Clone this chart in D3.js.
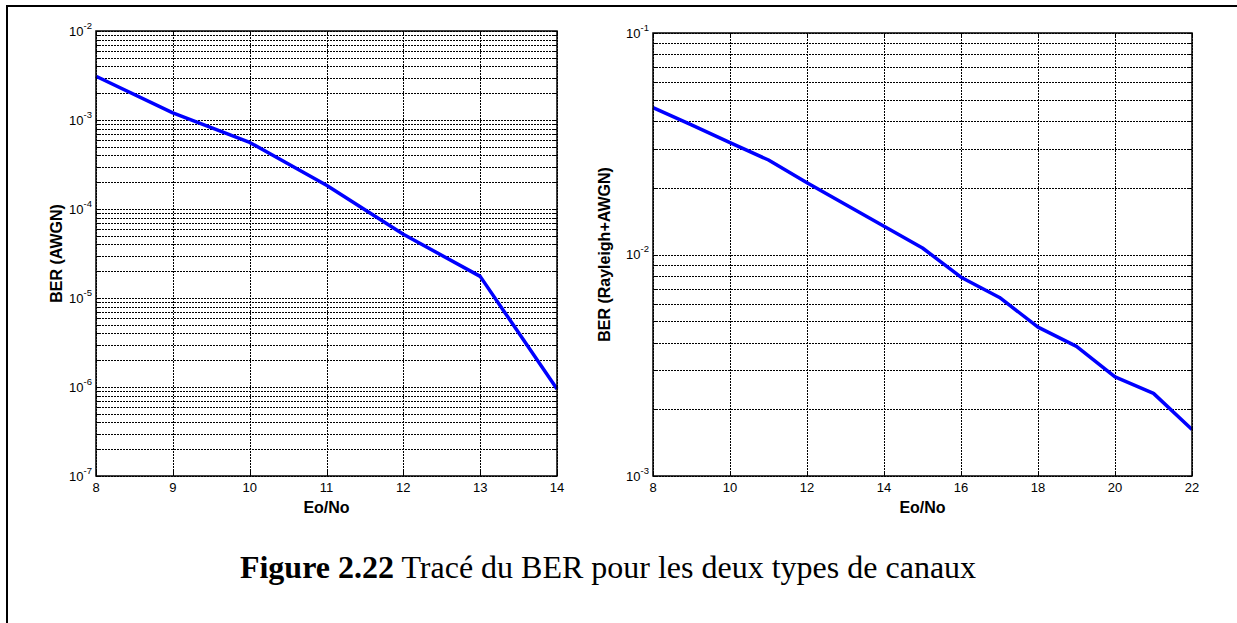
<!DOCTYPE html>
<html>
<head>
<meta charset="utf-8">
<script src="https://cdn.jsdelivr.net/npm/d3@7"></script>
<style>
  html, body { margin: 0; padding: 0; background: #fff; }
  svg { display: block; }
</style>
</head>
<body>
<svg id="chart" width="1237" height="623"></svg>
<script>
// ---------- data ----------
const xAWGN = [8, 9, 10, 11, 12, 13, 14];
const berAWGN = [3.1e-3, 1.2e-3, 5.6e-4, 1.85e-4, 5.2e-5, 1.75e-5, 9.5e-7];

const xRayleigh = [8, 9, 10, 11, 12, 13, 14, 15, 16, 17, 18, 19, 20, 21, 22];
const berRayleigh = [4.6e-2, 3.85e-2, 3.2e-2, 2.67e-2, 2.11e-2, 1.68e-2, 1.34e-2, 1.07e-2,
                     7.9e-3, 6.4e-3, 4.7e-3, 3.85e-3, 2.8e-3, 2.36e-3, 1.62e-3];

const xTicksAWGN = [8, 9, 10, 11, 12, 13, 14];
const yExpAWGN = [-2, -3, -4, -5, -6, -7];
const xTicksRayleigh = [8, 10, 12, 14, 16, 18, 20, 22];
const yExpRayleigh = [-1, -2, -3];

const xLabel = "Eo/No";
const yLabelAWGN = "BER (AWGN)";
const yLabelRayleigh = "BER (Rayleigh+AWGN)";
const captionBold = "Figure 2.22";
const captionText = " Tracé du BER pour les deux types de canaux";

// ---------- drawing ----------
const svg = d3.select("#chart");

// page frame (left and top border)
svg.append("path")
  .attr("d", "M7,623 V6 H1237")
  .attr("fill", "none").attr("stroke", "#000").attr("stroke-width", 2);

function panel(opts) {
  const { left, right, top, bottom, xs, ys, xTicks, yExps, xDomain, yLabel, yLabelX } = opts;
  const yMinExp = d3.min(yExps), yMaxExp = d3.max(yExps);
  const x = d3.scaleLinear().domain(xDomain).range([left, right]);
  const y = d3.scaleLog().domain([Math.pow(10, yMinExp), Math.pow(10, yMaxExp)]).range([bottom, top]);
  const g = svg.append("g");

  const yMajor = yExps.map(e => Math.pow(10, e));
  const yMinor = [];
  for (let e = yMinExp; e < yMaxExp; e++) {
    for (let k = 2; k <= 9; k++) yMinor.push(k * Math.pow(10, e));
  }
  const yAll = yMajor.concat(yMinor);

  // grid: horizontal
  g.append("g").selectAll("line").data(yAll).join("line")
    .attr("x1", left).attr("x2", right)
    .attr("y1", d => Math.round(y(d)) + 0.5).attr("y2", d => Math.round(y(d)) + 0.5)
    .attr("stroke", "#000").attr("stroke-width", 1).attr("stroke-dasharray", "2,1");
  // grid: vertical
  g.append("g").selectAll("line").data(xTicks).join("line")
    .attr("x1", d => Math.round(x(d)) + 0.5).attr("x2", d => Math.round(x(d)) + 0.5)
    .attr("y1", top).attr("y2", bottom)
    .attr("stroke", "#000").attr("stroke-width", 1).attr("stroke-dasharray", "2,1");

  // ticks (inside, all four sides)
  const tk = g.append("g").attr("stroke", "#000").attr("stroke-width", 1);
  yAll.forEach(v => {
    const len = yMajor.includes(v) ? 5 : 3;
    const yy = Math.round(y(v)) + 0.5;
    tk.append("line").attr("x1", left).attr("x2", left + len).attr("y1", yy).attr("y2", yy);
    tk.append("line").attr("x1", right - len).attr("x2", right).attr("y1", yy).attr("y2", yy);
  });
  xTicks.forEach(v => {
    const xx = Math.round(x(v)) + 0.5;
    tk.append("line").attr("x1", xx).attr("x2", xx).attr("y1", bottom).attr("y2", bottom - 5);
    tk.append("line").attr("x1", xx).attr("x2", xx).attr("y1", top).attr("y2", top + 5);
  });

  // data line
  const line = d3.line().x((d, i) => x(xs[i])).y(d => y(d));
  g.append("path").datum(ys)
    .attr("d", line)
    .attr("fill", "none").attr("stroke", "#0000ff").attr("stroke-width", 3.5)
    .attr("stroke-linejoin", "round");

  // box
  g.append("rect")
    .attr("x", left).attr("y", top).attr("width", right - left).attr("height", bottom - top)
    .attr("fill", "none").attr("stroke", "#000").attr("stroke-width", 1.5);

  // x tick labels
  g.append("g").selectAll("text").data(xTicks).join("text")
    .attr("x", d => x(d)).attr("y", bottom + 16)
    .attr("text-anchor", "middle")
    .attr("font-family", "Liberation Sans, Arial, sans-serif").attr("font-size", 13)
    .text(d => d);

  // y tick labels 10^e
  const yl = g.append("g").selectAll("text").data(yExps).join("text")
    .attr("x", left - 4).attr("y", d => y(Math.pow(10, d)) + 4.5)
    .attr("text-anchor", "end")
    .attr("font-family", "Liberation Sans, Arial, sans-serif").attr("font-size", 13);
  yl.append("tspan").text("10");
  yl.append("tspan").attr("dy", -7).attr("font-size", 9.5).text(d => d);

  // x label
  g.append("text")
    .attr("x", (left + right) / 2).attr("y", bottom + 37)
    .attr("text-anchor", "middle")
    .attr("font-family", "Liberation Sans, Arial, sans-serif").attr("font-size", 16).attr("font-weight", "bold")
    .text(xLabel);

  // y label
  g.append("text")
    .attr("transform", `translate(${yLabelX},${(top + bottom) / 2}) rotate(-90)`)
    .attr("text-anchor", "middle").attr("dy", "0.35em")
    .attr("font-family", "Liberation Sans, Arial, sans-serif").attr("font-size", 16).attr("font-weight", "bold")
    .text(yLabel);
}

panel({
  left: 96, right: 557, top: 31, bottom: 476,
  xs: xAWGN, ys: berAWGN, xTicks: xTicksAWGN, yExps: yExpAWGN,
  xDomain: [8, 14], yLabel: yLabelAWGN, yLabelX: 56
});

panel({
  left: 653, right: 1192, top: 33, bottom: 476,
  xs: xRayleigh, ys: berRayleigh, xTicks: xTicksRayleigh, yExps: yExpRayleigh,
  xDomain: [8, 22], yLabel: yLabelRayleigh, yLabelX: 604
});

// caption
const cap = svg.append("text")
  .attr("x", 608).attr("y", 578)
  .attr("text-anchor", "middle")
  .attr("font-family", "Liberation Serif, Times New Roman, serif").attr("font-size", 32);
cap.append("tspan").attr("font-weight", "bold").text(captionBold);
cap.append("tspan").text(captionText);
</script>
</body>
</html>
